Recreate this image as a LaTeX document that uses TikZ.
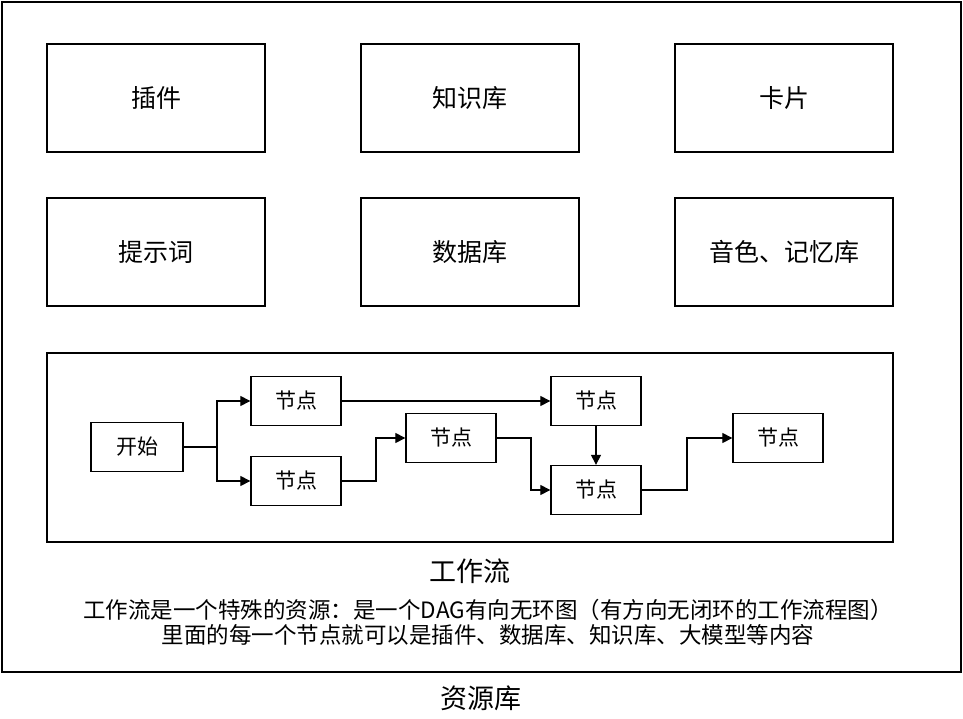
\documentclass[tikz,border=0pt]{standalone}
\usepackage{fontspec}
\setmainfont{Noto Sans CJK SC}
\usetikzlibrary{arrows.meta}
\begin{document}
\begin{tikzpicture}[x=1pt,y=-1pt,
  big/.style={draw,line width=1.3pt,minimum width=218pt,minimum height=108pt,font=\fontsize{25}{30}\selectfont},
  small/.style={draw,line width=1.3pt,minimum width=90pt,minimum height=49pt,font=\fontsize{21}{24}\selectfont},
  arr/.style={line width=1.1pt,-{Triangle[length=10pt,width=10pt]}}]
\useasboundingbox (0,0) rectangle (963,719);
\draw[line width=1.3pt] (2,2) rectangle (961,672);
\node[font=\fontsize{27}{30}\selectfont] (res) at (481,698) {资源库};
\node[big] (p1) at (156,98) {插件};
\node[big] (p2) at (470,98) {知识库};
\node[big] (p3) at (784,98) {卡片};
\node[big] (p4) at (156,252) {提示词};
\node[big] (p5) at (470,252) {数据库};
\node[big] (p6) at (784,252) {音色、记忆库};
\draw[line width=1.3pt] (47,353) rectangle (893,542);
\node[font=\fontsize{27}{30}\selectfont] (wf) at (470,571) {工作流};
\node[font=\fontsize{22.5}{24}\selectfont,align=center] (desc) at (488,622) {工作流是一个特殊的资源：是一个DAG有向无环图（有方向无闭环的工作流程图）\\[1pt]里面的每一个节点就可以是插件、数据库、知识库、大模型等内容};
\node[small,minimum width=92pt] (s) at (137,447) {开始};
\node[small] (a) at (296,401) {节点};
\node[small] (b) at (296,481) {节点};
\node[small] (c) at (451,438) {节点};
\node[small] (d) at (596,401) {节点};
\node[small] (e) at (596,490) {节点};
\node[small] (f) at (778,438) {节点};
\draw[arr] (s.east) -| (217,401) -- (a.west);
\draw[arr] (s.east) -| (217,481) -- (b.west);
\draw[arr] (b.east) -| (376,438) -- (c.west);
\draw[arr] (c.east) -| (531,490) -- (e.west);
\draw[arr] (a.east) -- (d.west);
\draw[arr] (d.south) -- (e.north);
\draw[arr] (e.east) -| (687,438) -- (f.west);
\end{tikzpicture}
\end{document}
